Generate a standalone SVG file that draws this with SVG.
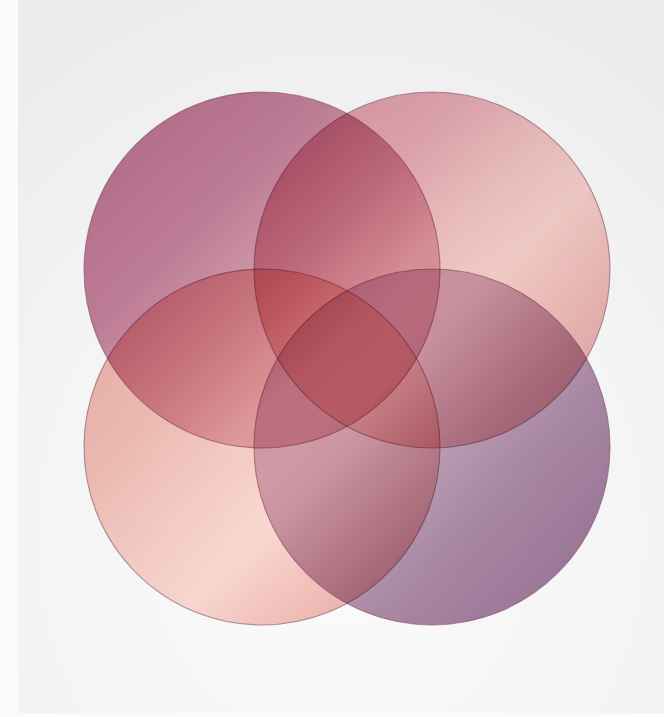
<svg xmlns="http://www.w3.org/2000/svg" width="664" height="717" viewBox="0 0 664 717">
  <defs>
    <radialGradient id="bg" cx="0.5" cy="0.75" r="0.8">
      <stop offset="0" stop-color="#fbfbfb"/>
      <stop offset="0.6" stop-color="#f4f4f4"/>
      <stop offset="1" stop-color="#ececec"/>
    </radialGradient>
    <linearGradient id="gTL" x1="0" y1="0" x2="1" y2="1">
      <stop offset="0" stop-color="#b86e8e"/>
      <stop offset="0.35" stop-color="#c6829c"/>
      <stop offset="0.7" stop-color="#eac0ca"/>
      <stop offset="1" stop-color="#e2acb8"/>
    </linearGradient>
    <linearGradient id="gTR" x1="0" y1="0" x2="1" y2="1">
      <stop offset="0" stop-color="#da94a6"/>
      <stop offset="0.3" stop-color="#e6aab2"/>
      <stop offset="0.48" stop-color="#f4c6c6"/>
      <stop offset="0.6" stop-color="#fad2cc"/>
      <stop offset="0.8" stop-color="#eeb6b4"/>
      <stop offset="1" stop-color="#e6aaaa"/>
    </linearGradient>
    <linearGradient id="gBL" x1="0" y1="0" x2="1" y2="1">
      <stop offset="0" stop-color="#eeb0ac"/>
      <stop offset="0.3" stop-color="#f4c0b8"/>
      <stop offset="0.48" stop-color="#fad2ca"/>
      <stop offset="0.62" stop-color="#ffdcd4"/>
      <stop offset="0.82" stop-color="#f2bcb6"/>
      <stop offset="1" stop-color="#eaaaaa"/>
    </linearGradient>
    <linearGradient id="gBR" x1="0" y1="0" x2="1" y2="1">
      <stop offset="0" stop-color="#d6b8d0"/>
      <stop offset="0.3" stop-color="#d8bcd2"/>
      <stop offset="0.65" stop-color="#ae8ca8"/>
      <stop offset="1" stop-color="#987096"/>
    </linearGradient>
  </defs>
  <style>
    .disc { mix-blend-mode: multiply; stroke: #8a5068; stroke-opacity: 0.6; stroke-width: 1.1; }
  </style>
  <rect x="0" y="0" width="664" height="717" fill="#fbfbfb"/>
  <rect x="18" y="0" width="646" height="713" fill="url(#bg)"/>
  <g id="circle-top-left">
    <circle class="disc" cx="262" cy="270" r="178" fill="url(#gTL)"/>
  </g>
  <g id="circle-top-right">
    <circle class="disc" cx="432" cy="270" r="178" fill="url(#gTR)"/>
  </g>
  <g id="circle-bottom-left">
    <circle class="disc" cx="262" cy="447" r="178" fill="url(#gBL)"/>
  </g>
  <g id="circle-bottom-right">
    <circle class="disc" cx="432" cy="447" r="178" fill="url(#gBR)"/>
  </g>
  <g id="connectors"/>
</svg>
